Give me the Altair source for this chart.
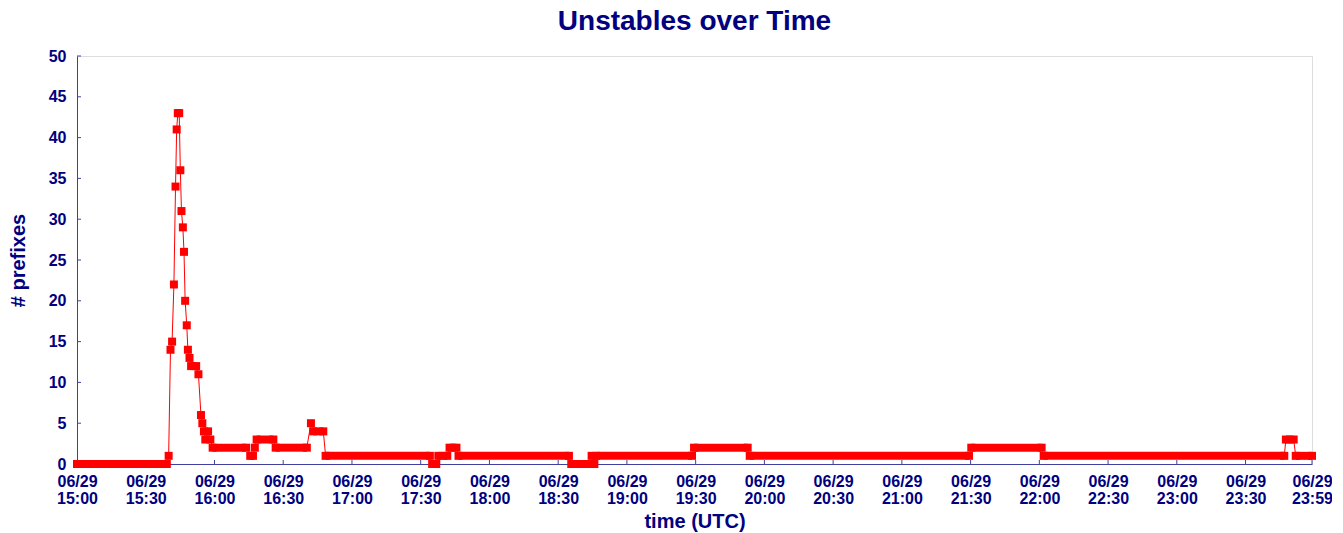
import altair as alt
import pandas as pd

# Runs of the series: minutes after 06/29 15:00 (start, end) and value (# prefixes).
# A single sample has start == end.
run_start = [0.0, 40.0, 40.8, 41.5, 42.3, 43.0, 43.5, 44.0, 45.1, 45.6, 46.2, 46.7, 47.2,
             47.9, 48.4, 49.1, 49.8, 53.0, 54.1, 54.7, 55.4, 56.0, 57.2, 58.2, 59.2,
             75.6, 77.6, 78.4, 86.7, 102.1, 103.1, 108.5, 155.0, 157.7, 162.6, 166.5,
             215.7, 224.6, 225.8, 226.6, 269.3, 293.6, 390.3, 421.9, 527.6, 531.9]
run_end = [39.2, 40.0, 40.8, 41.5, 42.3, 43.0, 43.5, 44.6, 45.1, 45.6, 46.2, 46.7, 47.2,
           47.9, 48.4, 49.1, 52.0, 53.0, 54.1, 54.7, 55.4, 56.0, 57.2, 58.2, 73.8,
           76.8, 77.6, 85.7, 100.3, 102.1, 107.5, 154.0, 156.8, 161.6, 165.6, 214.7,
           224.0, 224.6, 225.8, 268.4, 292.7, 389.3, 421.0, 526.9, 531.0, 539.0]
run_value = [0, 1, 14, 15, 22, 34, 41, 43, 36, 31, 29, 26, 20,
             17, 14, 13, 12, 11, 6, 5, 4, 3, 4, 3, 2,
             1, 2, 3, 2, 5, 4, 1, 0, 1, 2, 1,
             0, 1, 0, 1, 2, 1, 2, 1, 3, 1]

x_ticks = [0, 30, 60, 90, 120, 150, 180, 210, 240, 270, 300, 330, 360, 390,
           420, 450, 480, 510, 539]
y_ticks = [0, 5, 10, 15, 20, 25, 30, 35, 40, 45, 50]

NAVY = "#000080"
FRAME = "#4040a0"
RED = "#ff0000"
FONT = "Liberation Sans"

runs = pd.DataFrame({"start": run_start, "end": run_end, "value": run_value})
pts = []
for s, e, v in zip(run_start, run_end, run_value):
    pts.append((s, v))
    if e != s:
        pts.append((e, v))
points = pd.DataFrame(pts, columns=["t", "value"])
points["order"] = range(len(points))

xscale = alt.Scale(domain=[0, 539], nice=False, zero=False)
yscale = alt.Scale(domain=[0, 50], nice=False)

x_axis = alt.Axis(
    title="time (UTC)", values=x_ticks, ticks=False, tickSize=0, grid=False,
    labelExpr="['06/29', format(floor(datum.value / 60) + 15, '02d') + ':' + format(datum.value % 60, '02d')]",
    labelFont=FONT, labelFontSize=16, labelFontWeight="bold", labelColor=NAVY,
    labelLineHeight=17, labelPadding=9, labelFlush=False, labelOverlap=False,
    titleFont=FONT, titleFontSize=20, titleFontWeight="bold", titleColor=NAVY,
    titlePadding=5, domainColor=FRAME,
)
y_axis = alt.Axis(
    title="# prefixes", values=y_ticks, ticks=False, tickSize=0, grid=False,
    labelFont=FONT, labelFontSize=16, labelFontWeight="bold", labelColor=NAVY,
    labelPadding=11, labelFlush=False, labelOverlap=False,
    titleFont=FONT, titleFontSize=20, titleFontWeight="bold", titleColor=NAVY,
    titlePadding=20, domainColor=FRAME,
)

line = alt.Chart(points).mark_line(color=RED, strokeWidth=1).encode(
    x=alt.X("t:Q", scale=xscale, axis=x_axis),
    y=alt.Y("value:Q", scale=yscale, axis=y_axis),
    order="order:Q",
)

bars = alt.Chart(runs).mark_rule(color=RED, strokeWidth=8).encode(
    x=alt.X("start:Q", scale=xscale),
    x2="end:Q",
    y=alt.Y("value:Q", scale=yscale),
)

squares = alt.Chart(points).mark_square(color=RED, size=64, opacity=1).encode(
    x=alt.X("t:Q", scale=xscale),
    y=alt.Y("value:Q", scale=yscale),
)

xt = alt.Chart(pd.DataFrame({"t": x_ticks})).mark_rule(color=FRAME, strokeWidth=1).encode(
    x=alt.X("t:Q", scale=xscale),
    y=alt.value(404),
    y2=alt.value(408),
)
yt = alt.Chart(pd.DataFrame({"v": y_ticks})).mark_rule(color=FRAME, strokeWidth=1).encode(
    y=alt.Y("v:Q", scale=yscale),
    x=alt.value(0),
    x2=alt.value(4),
)

chart = alt.layer(line, xt, yt, bars, squares).properties(
    width=1235,
    height=408,
    title=alt.TitleParams(
        "Unstables over Time", font=FONT, fontSize=28, fontWeight="bold",
        color=NAVY, anchor="middle", offset=12,
    ),
    autosize=alt.AutoSizeParams(type="none"),
    padding={"left": 69, "top": 48, "right": 20, "bottom": 69},
).configure_view(stroke=FRAME, strokeWidth=1).configure(background="white")

chart.save("out.html", embed_options={"renderer": "svg", "actions": False})
